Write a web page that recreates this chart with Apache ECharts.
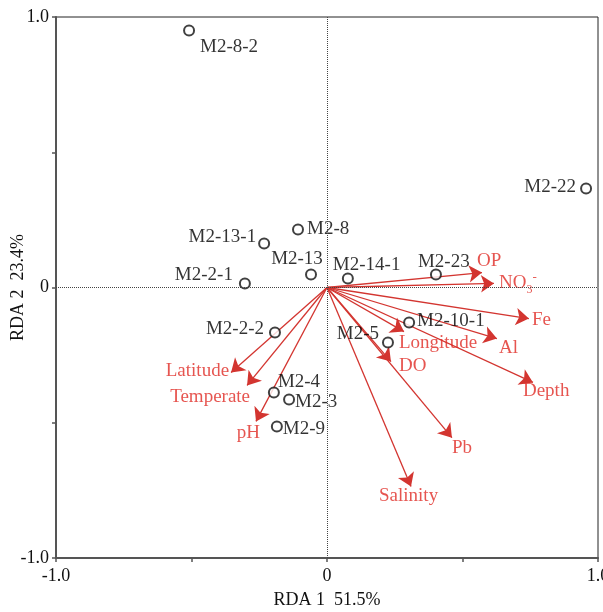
<!DOCTYPE html>
<html>
<head>
<meta charset="utf-8">
<script src="https://cdn.jsdelivr.net/npm/echarts@6/dist/echarts.min.js"></script>
<style>
html,body{margin:0;padding:0;background:#fff;}
#chart{width:603px;height:612px;}
</style>
</head>
<body>
<div id="chart"></div>
<script>
// ---- data ----
var siteNames = ['M2-8-2','M2-22','M2-8','M2-13-1','M2-13','M2-2-1','M2-14-1','M2-23','M2-2-2','M2-10-1','M2-5','M2-4','M2-3','M2-9'];
var siteX = [-0.509, 0.956, -0.107, -0.232, -0.059, -0.303, 0.077, 0.402, -0.192, 0.303, 0.225, -0.196, -0.140, -0.185];
var siteY = [0.950, 0.366, 0.214, 0.163, 0.048, 0.015, 0.033, 0.048, -0.166, -0.129, -0.203, -0.388, -0.414, -0.514];

var envNames = ['OP','NO3','Fe','Al','Longitude','DO','Depth','Pb','Salinity','Latitude','Temperate','pH'];
var envX = [0.572, 0.616, 0.745, 0.627, 0.284, 0.236, 0.760, 0.461, 0.310, -0.354, -0.295, -0.262];
var envY = [0.055, 0.015, -0.115, -0.189, -0.163, -0.274, -0.351, -0.555, -0.736, -0.314, -0.362, -0.495];

var xTickLabels = {'-1': '-1.0', '0': '0', '1': '1.0'};
var yTickLabels = {'-1': '-1.0', '0': '0', '1': '1.0'};

// ---- label placement (styling) ----
var sitePlace = {
  'M2-8-2': ['left', 11, 16], 'M2-22': ['right', -10, -1], 'M2-8': ['left', 9, -1],
  'M2-13-1': ['right', -8, -6], 'M2-13': ['center', -14, -16], 'M2-2-1': ['right', -12, -8],
  'M2-14-1': ['left', -15, -14], 'M2-23': ['left', -18, -13], 'M2-2-2': ['right', -11, -3],
  'M2-10-1': ['left', 8, -1], 'M2-5': ['right', -9, -8], 'M2-4': ['left', 4, -10],
  'M2-3': ['left', 6, 3], 'M2-9': ['left', 6, 2]
};
var envPlace = {
  'OP': ['left', -5, -12], 'NO3': ['left', 5, 0], 'Fe': ['left', 3, 1], 'Al': ['left', 2, 9],
  'Longitude': ['left', -5, 11], 'DO': ['left', 8, 4], 'Depth': ['left', -10, 9],
  'Pb': ['left', 0, 10], 'Salinity': ['left', -32, 9], 'Latitude': ['right', -2, -1],
  'Temperate': ['right', 3, 12], 'pH': ['right', 4, 12]
};

var FONT = '"Liberation Serif", "Times New Roman", serif';
var RED_TEXT = '#e02a24';
var RED_LINE = '#d33530';

var siteData = siteNames.map(function (n, i) {
  var p = sitePlace[n];
  return {
    name: n, value: [siteX[i], siteY[i]],
    label: { align: p[0], offset: [p[1], p[2]] }
  };
});
var arrowData = envNames.map(function (n, i) {
  return { name: n, coords: [[0, 0], [envX[i], envY[i]]] };
});
var envLabelData = envNames.map(function (n, i) {
  var p = envPlace[n];
  return {
    name: n, value: [envX[i], envY[i]],
    label: { align: p[0], offset: [p[1], p[2]] }
  };
});

var chart = echarts.init(document.getElementById('chart'), null, { renderer: 'canvas' });
chart.setOption({
  animation: false,
  backgroundColor: '#fff',
  grid: { left: 56, right: 5, top: 17, bottom: 54, containLabel: false, outerBoundsMode: 'none',
          show: true, borderColor: '#222', borderWidth: 1, backgroundColor: 'transparent' },
  xAxis: {
    type: 'value', min: -1, max: 1, interval: 0.5,
    name: 'RDA 1  51.5%', nameLocation: 'middle', nameGap: 33, nameMoveOverlap: false,
    nameTextStyle: { fontFamily: FONT, fontSize: 18, color: '#111' },
    axisLine: { show: true, onZero: false, lineStyle: { color: '#555', width: 2 } },
    axisTick: { show: true, length: 4, lineStyle: { color: '#555', width: 1.5 } },
    splitLine: { show: false },
    axisLabel: {
      fontFamily: FONT, fontSize: 18, color: '#111', margin: 9, showMinLabel: true, showMaxLabel: true,
      formatter: function (v) { var k = String(Math.round(v * 10) / 10); return xTickLabels[k] !== undefined ? xTickLabels[k] : ''; }
    }
  },
  yAxis: {
    type: 'value', min: -1, max: 1, interval: 0.5,
    name: 'RDA 2  23.4%', nameLocation: 'middle', nameGap: 29, nameMoveOverlap: false,
    nameTextStyle: { fontFamily: FONT, fontSize: 18, color: '#111' },
    axisLine: { show: true, onZero: false, lineStyle: { color: '#555', width: 2 } },
    axisTick: { show: true, length: 4, lineStyle: { color: '#555', width: 1.5 } },
    splitLine: { show: false },
    axisLabel: {
      fontFamily: FONT, fontSize: 18, color: '#111', margin: 7, showMinLabel: true, showMaxLabel: true,
      formatter: function (v) { var k = String(Math.round(v * 10) / 10); return yTickLabels[k] !== undefined ? yTickLabels[k] : ''; }
    }
  },
  series: [
    {
      type: 'scatter', name: 'zero', data: [], silent: true,
      markLine: {
        silent: true, symbol: 'none', animation: false,
        label: { show: false },
        lineStyle: { type: [1, 1], color: '#444', width: 1 },
        data: [{ xAxis: 0 }, { yAxis: 0 }]
      }
    },
    {
      type: 'lines', coordinateSystem: 'cartesian2d', name: 'arrows', silent: true,
      symbol: ['none', 'arrow'], symbolSize: [8, 13],
      lineStyle: { color: RED_LINE, width: 1.3, opacity: 1 },
      data: arrowData
    },
    {
      type: 'scatter', name: 'envLabels', symbolSize: 1, silent: true,
      itemStyle: { color: 'rgba(0,0,0,0)' },
      label: {
        show: true, position: 'inside', verticalAlign: 'middle',
        fontFamily: FONT, fontSize: 19, color: RED_TEXT,
        formatter: function (p) { return p.name === 'NO3' ? '{n|NO}{s|3}{p|-}' : p.name; },
        rich: {
          n: { fontFamily: FONT, fontSize: 19, color: RED_TEXT, lineHeight: 24, verticalAlign: 'middle' },
          s: { fontFamily: FONT, fontSize: 12, color: RED_TEXT, verticalAlign: 'bottom', lineHeight: 24 },
          p: { fontFamily: FONT, fontSize: 13, color: RED_TEXT, verticalAlign: 'top', lineHeight: 24 }
        }
      },
      data: envLabelData
    },
    {
      type: 'scatter', name: 'sites', symbol: 'emptyCircle', symbolSize: 10,
      itemStyle: { color: '#111', borderColor: '#111', borderWidth: 1 },
      label: {
        show: true, position: 'inside', verticalAlign: 'middle',
        fontFamily: FONT, fontSize: 19, color: '#000',
        formatter: function (p) { return p.name; }
      },
      data: siteData
    }
  ]
});
</script>
</body>
</html>
